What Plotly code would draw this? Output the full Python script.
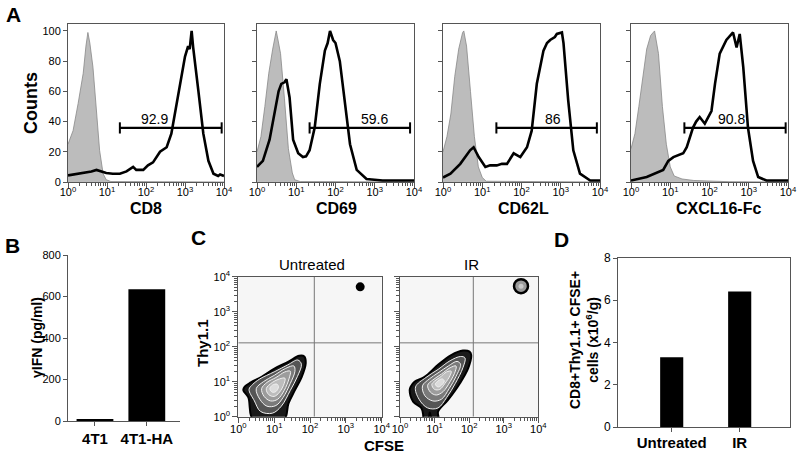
import numpy as np
import plotly.graph_objects as go

FONT = "Liberation Sans"
W, H = 800, 454

# ---------------- Panel A data (x in log10 units) ----------------
markers_A = ["CD8", "CD69", "CD62L", "CXCL16-Fc"]

iso_x = [
    [0, 0.13, 0.26, 0.39, 0.46, 0.51, 0.56, 0.64, 0.73, 0.81, 0.9, 0.98, 1.1, 4.0],
    [0, 0.1, 0.2, 0.3, 0.4, 0.45, 0.49, 0.55, 0.6, 0.7, 0.8, 0.9, 0.96, 1.1, 4.0],
    [0, 0.1, 0.2, 0.3, 0.4, 0.5, 0.53, 0.6, 0.7, 0.8, 0.9, 1.0, 1.1, 4.0],
    [0, 0.1, 0.2, 0.3, 0.4, 0.5, 0.6, 0.7, 0.8, 0.9, 1.0, 1.1, 1.3, 1.6, 2.0, 2.5, 4.0],
]
iso_y = [
    [25, 34, 52, 72, 90, 99, 92, 76, 47, 21, 5.5, 1.5, 0.3, 0],
    [20, 30, 50, 72, 88, 95, 100, 92, 85, 55, 22, 6, 1.5, 0.3, 0],
    [20, 30, 45, 70, 88, 99, 100, 90, 60, 30, 10, 3, 0.5, 0],
    [22, 32, 50, 70, 88, 97, 100, 85, 50, 25, 10, 4, 2, 1, 0.5, 0.2, 0],
]
stain_x = [
    [0, 0.39, 0.6, 0.73, 0.85, 0.98, 1.15, 1.33, 1.5, 1.67, 1.75, 1.93, 2.05, 2.18, 2.36, 2.53,
     2.65, 2.78, 2.91, 3.0, 3.08, 3.12, 3.17, 3.21, 3.34, 3.47, 3.6, 3.73, 3.85, 3.9, 4.0],
    [0, 0.15, 0.32, 0.49, 0.55, 0.62, 0.7, 0.75, 0.83, 0.92, 1.05, 1.17, 1.25, 1.34, 1.47, 1.6,
     1.73, 1.8, 1.86, 1.94, 2.0, 2.11, 2.24, 2.37, 2.54, 2.79, 3.2, 4.0],
    [0, 0.19, 0.44, 0.6, 0.69, 0.78, 0.91, 1.08, 1.2, 1.37, 1.5, 1.63, 1.8, 1.97, 2.14, 2.26,
     2.39, 2.56, 2.65, 2.73, 2.85, 2.9, 3.03, 3.07, 3.19, 3.32, 3.49, 3.75, 4.0],
    [0, 0.4, 0.82, 0.95, 1.08, 1.33, 1.42, 1.58, 1.66, 1.75, 1.88, 2.05, 2.14, 2.26, 2.43, 2.6,
     2.69, 2.77, 2.86, 2.98, 3.11, 3.24, 3.45, 4.0],
]
stain_y = [
    [4.4, 6, 7, 8, 7, 6, 5.5, 5.5, 7, 10, 8, 8, 11, 13, 20, 23, 32, 50, 70, 83, 90, 88, 100, 89,
     61, 32, 14, 5.5, 4, 5, 4],
    [10, 14, 28, 52, 60, 65, 66, 68, 56, 28, 19, 16.5, 17, 21, 36, 65, 87, 92, 100, 94, 92, 80,
     54, 25, 8, 2, 1, 1],
    [3, 5.5, 12, 18, 21, 23, 16.5, 10, 11, 11, 12, 12, 19, 16.5, 23, 34, 65, 87, 92, 94, 96, 98,
     99, 92, 54, 21, 5.5, 1, 1],
    [1, 3.3, 8, 14, 16.5, 19, 23, 36, 40, 43, 38.6, 47, 65, 85, 94, 99, 89, 98, 76, 36, 14, 3.3,
     1, 1],
]
gate_lo = [1.33, 1.34, 1.36, 1.36]
gate_hi = [3.94, 3.9, 3.92, 3.94]
gate_level = [35.8, 35.8, 35.8, 35.8]
gate_pct = ["92.9", "59.6", "86", "90.8"]
gate_label_x = [2.23, 3.0, 2.81, 2.56]
gate_label_y = [42, 42, 42, 42]

# ---------------- Panel B data ----------------
b_cats = ["4T1", "4T1-HA"]
b_vals = [10, 635]

# ---------------- Panel C data (log10 units) ----------------
c_titles = ["Untreated", "IR"]
c_gate_x = [2.12, 2.12]
c_gate_y = [2.11, 2.11]
# nested zone polygons, outer -> inner
untreated_levels = [
    ([0.14, 0.28, 0.42, 1.27, 1.4, 1.58, 1.77, 1.88, 1.84, 1.7, 1.4, 1.02, 0.65, 0.35, 0.18, 0.14],
     [0.76, 0.55, -0.1, -0.1, 0.38, 0.76, 1.14, 1.52, 1.72, 1.74, 1.57, 1.38, 1.14, 0.98, 0.86, 0.76]),
    ([0.3, 0.45, 0.62, 0.95, 1.2, 1.45, 1.65, 1.76, 1.66, 1.38, 1.0, 0.6, 0.4, 0.3],
     [0.78, 0.45, 0.15, 0.1, 0.3, 0.75, 1.15, 1.5, 1.62, 1.48, 1.28, 1.08, 0.92, 0.78]),
    ([0.5, 0.6, 0.8, 1.05, 1.25, 1.45, 1.58, 1.55, 1.32, 1.0, 0.7, 0.5],
     [0.8, 0.5, 0.3, 0.32, 0.55, 0.95, 1.3, 1.45, 1.38, 1.18, 1.0, 0.8]),
    ([0.65, 0.72, 0.9, 1.1, 1.28, 1.42, 1.45, 1.3, 1.05, 0.8, 0.65],
     [0.8, 0.58, 0.45, 0.5, 0.75, 1.1, 1.3, 1.28, 1.12, 0.98, 0.8]),
    ([0.78, 0.85, 1.0, 1.15, 1.28, 1.3, 1.15, 0.95, 0.78],
     [0.8, 0.63, 0.58, 0.7, 0.95, 1.1, 1.08, 0.98, 0.8]),
    ([0.88, 0.95, 1.05, 1.12, 1.08, 0.95, 0.88],
     [0.8, 0.7, 0.72, 0.85, 0.93, 0.9, 0.8]),
]
ir_levels = [
    ([0.28, 0.38, 0.62, 0.67, 0.67, 0.82, 0.86, 0.93, 1.12, 1.1, 1.39, 1.73, 1.97, 2.06, 2.01, 1.82,
      1.48, 1.1, 0.71, 0.42, 0.31, 0.28],
     [0.76, 0.43, 0.24, 0.05, -0.1, -0.1, 0.12, -0.1, -0.1, 0.14, 0.48, 0.95, 1.38, 1.76, 1.86, 1.89,
      1.76, 1.48, 1.14, 1.0, 0.86, 0.76]),
    ([0.45, 0.55, 0.8, 1.1, 1.35, 1.6, 1.82, 1.88, 1.75, 1.45, 1.1, 0.75, 0.45],
     [0.85, 0.5, 0.25, 0.25, 0.55, 0.95, 1.4, 1.68, 1.72, 1.6, 1.35, 1.12, 0.85]),
    ([0.65, 0.72, 0.95, 1.2, 1.42, 1.62, 1.75, 1.65, 1.4, 1.1, 0.85, 0.65],
     [0.88, 0.6, 0.45, 0.5, 0.8, 1.15, 1.5, 1.58, 1.45, 1.25, 1.08, 0.88]),
    ([0.8, 0.88, 1.05, 1.25, 1.45, 1.6, 1.62, 1.45, 1.2, 0.95, 0.8],
     [0.9, 0.7, 0.62, 0.72, 1.0, 1.3, 1.45, 1.4, 1.22, 1.05, 0.9]),
    ([0.92, 1.0, 1.15, 1.3, 1.45, 1.48, 1.35, 1.15, 1.0, 0.92],
     [0.92, 0.78, 0.78, 0.95, 1.18, 1.3, 1.28, 1.12, 1.02, 0.92]),
    ([1.02, 1.1, 1.2, 1.28, 1.22, 1.1, 1.02],
     [0.93, 0.85, 0.9, 1.02, 1.08, 1.02, 0.93]),
]
c_dot_x = [3.4, 3.5]
c_dot_y = [3.71, 3.73]

# ---------------- Panel D data ----------------
d_cats = ["Untreated", "IR"]
d_vals = [3.3, 6.42]

# =================================================================
def px(x):
    return x / W


def py(y):
    return 1 - y / H


def note(x, y, text, size, angle=0, weight_bold=True):
    fig.add_annotation(x=px(x), y=py(y), xref="paper", yref="paper",
                       xanchor="center", yanchor="middle",
                       text=("<b>%s</b>" % text) if weight_bold else text,
                       textangle=angle, showarrow=False,
                       font=dict(size=size, family=FONT, color="black"))


fig = go.Figure()
decade_vals = [0, 1, 2, 3, 4]
decade_text = ["10<sup>%d</sup>" % k for k in decade_vals]
minor_vals = [n + np.log10(k) for n in range(4) for k in range(2, 10)]

AX = "#555555"
layout = dict(
    width=W, height=H, margin=dict(l=0, r=0, t=0, b=0, pad=0, autoexpand=False),
    paper_bgcolor="white", plot_bgcolor="white", showlegend=False,
    font=dict(family=FONT, color="black", size=11),
)


def log_axis(domain, anchor, labels=True, standoff=0):
    return dict(
        domain=domain, anchor=anchor, range=[0, 4], tickmode="array",
        tickvals=decade_vals, ticktext=decade_text, showticklabels=labels,
        ticks="outside", ticklen=5, tickwidth=1, tickcolor=AX,
        ticklabelstandoff=standoff,
        minor=dict(tickmode="array", tickvals=minor_vals, ticks="outside",
                   ticklen=3, tickwidth=1, tickcolor=AX),
        showline=True, linecolor=AX, linewidth=1, mirror=True, automargin=False,
        showgrid=False, zeroline=False, tickfont=dict(size=11, family=FONT, color="black"),
    )


# ---- Panel A
a_xdom = [(68, 224), (257, 414), (443, 600), (631, 788)]
a_ydom = [py(182), py(24)]
a_title_x = [146, 336, 523, 718]
grey_lines = "#888888"
for i in range(4):
    n = i + 1
    xa = "x" if n == 1 else "x%d" % n
    ya = "y" if n == 1 else "y%d" % n
    layout["xaxis" if n == 1 else "xaxis%d" % n] = log_axis(
        [px(a_xdom[i][0]), px(a_xdom[i][1])], ya, standoff=-5)
    layout["yaxis" if n == 1 else "yaxis%d" % n] = dict(
        domain=a_ydom, anchor=xa, range=[0, 104.6], tickmode="array",
        tickvals=[0, 20, 40, 60, 80, 100], showticklabels=(n == 1),
        ticks="outside", ticklen=4, tickcolor=AX, showline=True, linecolor=AX,
        linewidth=1, mirror=True, showgrid=False, zeroline=False, automargin=False,
        tickfont=dict(size=11, family=FONT, color="black"),
    )
    fig.add_trace(go.Scatter(x=iso_x[i], y=iso_y[i], xaxis=xa, yaxis=ya, mode="lines",
                             fill="tozeroy", fillcolor="#bcbcbc",
                             line=dict(color=grey_lines, width=0.8), hoverinfo="skip"))
    fig.add_trace(go.Scatter(x=stain_x[i], y=stain_y[i], xaxis=xa, yaxis=ya, mode="lines",
                             line=dict(color="black", width=2.6), hoverinfo="skip"))
    fig.add_trace(go.Scatter(x=[gate_lo[i], gate_hi[i]], y=[gate_level[i], gate_level[i]],
                             xaxis=xa, yaxis=ya, mode="lines+markers",
                             line=dict(color="black", width=2.4),
                             marker=dict(symbol="line-ns", size=8,
                                         line=dict(color="black", width=2)),
                             hoverinfo="skip"))
    fig.add_annotation(x=gate_label_x[i], y=gate_label_y[i], xref=xa, yref=ya,
                       xanchor="center", yanchor="middle",
                       text=gate_pct[i], showarrow=False,
                       font=dict(size=14, family=FONT, color="black"))
    note(a_title_x[i], 208, markers_A[i], 16)

note(31, 103, "Counts", 18, angle=-90)

# ---- Panel B (axis 5)
layout["xaxis5"] = dict(domain=[px(68), px(180)], anchor="y5", type="category",
                        range=[-0.52, 1.64], ticks="outside", ticklen=4, tickcolor=AX,
                        showline=True, linecolor=AX, linewidth=1, showgrid=False,
                        zeroline=False, automargin=False,
                        tickfont=dict(size=15, family=FONT, weight="bold", color="black"))
layout["yaxis5"] = dict(domain=[py(421), py(255)], anchor="x5", range=[0, 800],
                        tickvals=[0, 200, 400, 600, 800], ticks="outside", ticklen=4,
                        tickcolor=AX, showline=True, linecolor=AX, linewidth=1,
                        showgrid=False, zeroline=False, automargin=False,
                        tickfont=dict(size=11, family=FONT, color="black"))
fig.add_trace(go.Bar(x=b_cats, y=b_vals, xaxis="x5", yaxis="y5", width=0.71,
                     marker=dict(color="black", line=dict(width=0)), hoverinfo="skip"))
note(37, 338, "γIFN (pg/ml)", 14, angle=-90)

# ---- Panel C (axes 6, 7)
c_xdom = [(238.3, 381.7), (400, 538.3)]
c_ydom = [py(416.7), py(276.7)]
zone_fill = ["#1a1a1a", "#555555", "#7a7a7a", "#9c9c9c", "#bdbdbd", "#dcdcdc"]
for j, levels in enumerate([untreated_levels, ir_levels]):
    n = 6 + j
    xa, ya = "x%d" % n, "y%d" % n
    layout["xaxis%d" % n] = log_axis([px(c_xdom[j][0]), px(c_xdom[j][1])], ya, standoff=-3)
    layout["yaxis%d" % n] = log_axis(c_ydom, xa, labels=(j == 0))
    fig.add_shape(type="rect", xref="%s domain" % xa, yref="%s domain" % ya,
                  x0=0, x1=1, y0=0, y1=1, fillcolor="#f6f6f6", line=dict(width=0),
                  layer="below")
    for k, (lx, ly) in enumerate(levels):
        fig.add_trace(go.Scatter(
            x=lx, y=ly, xaxis=xa, yaxis=ya, mode="lines", fill="toself",
            fillcolor=zone_fill[k],
            line=dict(color="black" if k == 0 else "#f0f0f0",
                      width=2 if k == 0 else 1, shape="spline", smoothing=1.0),
            hoverinfo="skip"))
    # quadrant lines
    fig.add_trace(go.Scatter(x=[c_gate_x[j], c_gate_x[j]], y=[0, 4], xaxis=xa, yaxis=ya,
                             mode="lines", line=dict(color="#777777", width=1),
                             hoverinfo="skip"))
    fig.add_trace(go.Scatter(x=[0, 4], y=[c_gate_y[j], c_gate_y[j]], xaxis=xa, yaxis=ya,
                             mode="lines", line=dict(color="#777777", width=1),
                             hoverinfo="skip"))
    xc = (c_xdom[j][0] + c_xdom[j][1]) / 2
    note(xc + 2, 264, c_titles[j], 15, weight_bold=False)

# population dots
fig.add_trace(go.Scatter(x=[c_dot_x[0]], y=[c_dot_y[0]], xaxis="x6", yaxis="y6",
                         mode="markers", marker=dict(color="black", size=9),
                         hoverinfo="skip"))
fig.add_trace(go.Scatter(x=[c_dot_x[1]], y=[c_dot_y[1]], xaxis="x7", yaxis="y7",
                         mode="markers",
                         marker=dict(color="#9a9a9a", size=14,
                                     line=dict(color="black", width=2.5)),
                         hoverinfo="skip"))
fig.add_trace(go.Scatter(x=[c_dot_x[1]], y=[c_dot_y[1]], xaxis="x7", yaxis="y7",
                         mode="markers", marker=dict(color="#c9c9c9", size=5),
                         hoverinfo="skip"))
note(202, 343, "Thy1.1", 15, angle=-90)
note(384, 445, "CFSE", 15)

# ---- Panel D (axis 8)
layout["xaxis8"] = dict(domain=[px(618), px(790)], anchor="y8", type="category",
                        range=[-0.79, 1.74], ticks="outside", ticklen=4, tickcolor=AX,
                        showline=True, linecolor=AX, linewidth=1, mirror=True,
                        showgrid=False, zeroline=False, automargin=False,
                        ticklabelstandoff=-2,
                        tickfont=dict(size=15, family=FONT, weight="bold", color="black"))
layout["yaxis8"] = dict(domain=[py(427), py(258)], anchor="x8", range=[0, 8],
                        tickvals=[0, 2, 4, 6, 8], ticks="outside", ticklen=4,
                        tickcolor=AX, showline=True, linecolor=AX, linewidth=1,
                        mirror=True, showgrid=False, zeroline=False, automargin=False,
                        tickfont=dict(size=12, family=FONT, color="black"))
fig.add_trace(go.Bar(x=d_cats, y=d_vals, xaxis="x8", yaxis="y8", width=0.34,
                     marker=dict(color="black", line=dict(width=0)), hoverinfo="skip"))
note(584, 340, "CD8+Thy1.1+ CFSE+<br>cells (x10<sup>6</sup>/g)", 14, angle=-90)

# ---- panel letters
for letter, (lx, ly) in zip("ABCD", [(13, 14), (12, 245), (198, 238), (561, 239)]):
    note(lx, ly, letter, 21)

fig.update_layout(**layout)
fig.write_html("out.html", config={"displayModeBar": False},
               post_script="document.body.style.margin='0px';document.body.style.overflow='hidden';")
